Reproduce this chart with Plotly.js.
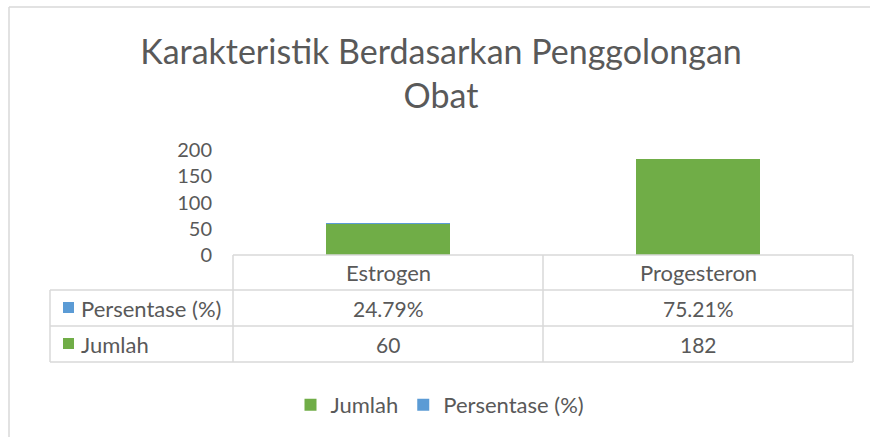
<!DOCTYPE html>
<html>
<head>
<meta charset="utf-8">
<script src="https://cdn.plot.ly/plotly-3.0.1.min.js"></script>
<style>html,body{margin:0;padding:0;background:#fff;}#chart{width:870px;height:437px;}</style>
</head>
<body>
<div id="chart"></div>
<script>
// ---- data ----
const categories = ['Estrogen', 'Progesteron'];
const jumlah = [60, 182];
const persentase = [0.2479, 0.7521];
const seriesNames = ['Jumlah', 'Persentase (%)'];
const yTicks = [0, 50, 100, 150, 200];

// ---- styles ----
const W = 870, H = 437;
const FONT = 'Lato, "Open Sans", sans-serif';
const TXT = '#595959';
const GRID = '#d9d9d9';
const GREEN = '#70ad47';
const BLUE = '#5b9bd5';
const px = x => x / W;
const py = y => 1 - y / H;

// plot area (pixels)
const L = 233, R = 853, TOP = 150, BOT = 255;
const ROW1 = 290, ROW2 = 326, ROW3 = 362, TL = 50;

const traces = [
  {type: 'bar', name: seriesNames[0], x: categories, y: jumlah,
   marker: {color: GREEN}, hoverinfo: 'none'},
  {type: 'bar', name: seriesNames[1], x: categories, y: persentase,
   marker: {color: BLUE}, hoverinfo: 'none'}
];

const line = (x0, y0, x1, y1, c, w) => ({type: 'line', xref: 'paper', yref: 'paper',
  x0: px(x0), y0: py(y0), x1: px(x1), y1: py(y1), line: {color: c || GRID, width: w || 1.5}});

const shapes = [
  // chart border (top, left)
  line(9, 7, 880, 7, '#d9d9d9', 1.5),
  line(9, 7, 9, 445, '#d9d9d9', 1.5),
  // table
  line(L, BOT, R, BOT),
  line(TL, ROW1, R, ROW1),
  line(TL, ROW2, R, ROW2),
  line(TL, ROW3, R, ROW3),
  line(L, BOT, L, ROW3),
  line((L + R) / 2, BOT, (L + R) / 2, ROW3),
  line(R, BOT, R, ROW3),
  line(TL, ROW1, TL, ROW3),
  // row-header keys
  {type: 'rect', xref: 'paper', yref: 'paper', x0: px(63), x1: px(74), y0: py((ROW1 + ROW2) / 2 - 6), y1: py((ROW1 + ROW2) / 2 + 5), fillcolor: BLUE, line: {width: 0}},
  {type: 'rect', xref: 'paper', yref: 'paper', x0: px(63), x1: px(74), y0: py((ROW2 + ROW3) / 2 - 6), y1: py((ROW2 + ROW3) / 2 + 5), fillcolor: GREEN, line: {width: 0}}
];

const numFont = {family: FONT, size: 21, color: TXT};
const txtFont = {family: FONT, size: 22, color: TXT};
const annotations = [];
categories.forEach((c, i) => {
  annotations.push({xref: 'x', yref: 'paper', x: c, y: py((BOT + ROW1) / 2), text: c, showarrow: false, font: txtFont, xanchor: 'center', yanchor: 'middle'});
  annotations.push({xref: 'x', yref: 'paper', x: c, y: py((ROW1 + ROW2) / 2), text: (persentase[i] * 100).toFixed(2) + '%', showarrow: false, font: numFont, xanchor: 'center', yanchor: 'middle'});
  annotations.push({xref: 'x', yref: 'paper', x: c, y: py((ROW2 + ROW3) / 2), text: String(jumlah[i]), showarrow: false, font: numFont, xanchor: 'center', yanchor: 'middle'});
});
annotations.push({xref: 'paper', yref: 'paper', x: px(79), y: py((ROW1 + ROW2) / 2), text: seriesNames[1], showarrow: false, font: txtFont, xanchor: 'left', yanchor: 'middle'});
annotations.push({xref: 'paper', yref: 'paper', x: px(79), y: py((ROW2 + ROW3) / 2), text: seriesNames[0], showarrow: false, font: txtFont, xanchor: 'left', yanchor: 'middle'});

const layout = {
  width: W, height: H,
  margin: {l: 0, r: 0, t: 0, b: 0},
  paper_bgcolor: '#fff', plot_bgcolor: 'rgba(0,0,0,0)',
  font: {family: FONT, color: TXT},
  title: {text: 'Karakteristik Berdasarkan Penggolongan<br>Obat', x: px(441), xanchor: 'center',
          y: 1 - 64 / H, yanchor: 'top', xref: 'container', yref: 'container',
          font: {family: FONT, size: 34, color: TXT}},
  barmode: 'stack', bargap: 0.6,
  xaxis: {domain: [px(L), px(R)], showticklabels: false, ticks: '', showgrid: false,
          zeroline: false, showline: false, range: [-0.5, 1.5], fixedrange: true},
  yaxis: {domain: [py(BOT), py(TOP)], range: [0, 200], tickvals: yTicks, ticks: '',
          showgrid: false, zeroline: false, showline: false, ticklabelstandoff: 20,
          tickfont: {family: FONT, size: 20, color: TXT}, fixedrange: true},
  showlegend: true,
  legend: {orientation: 'h', x: px(440), xanchor: 'center', y: py(405), yanchor: 'middle',
           font: {family: FONT, size: 22, color: TXT}, traceorder: 'normal', itemclick: false,
           itemwidth: 30},
  shapes: shapes,
  annotations: annotations
};

Plotly.newPlot('chart', traces, layout, {displayModeBar: false, staticPlot: true});
</script>
</body>
</html>
